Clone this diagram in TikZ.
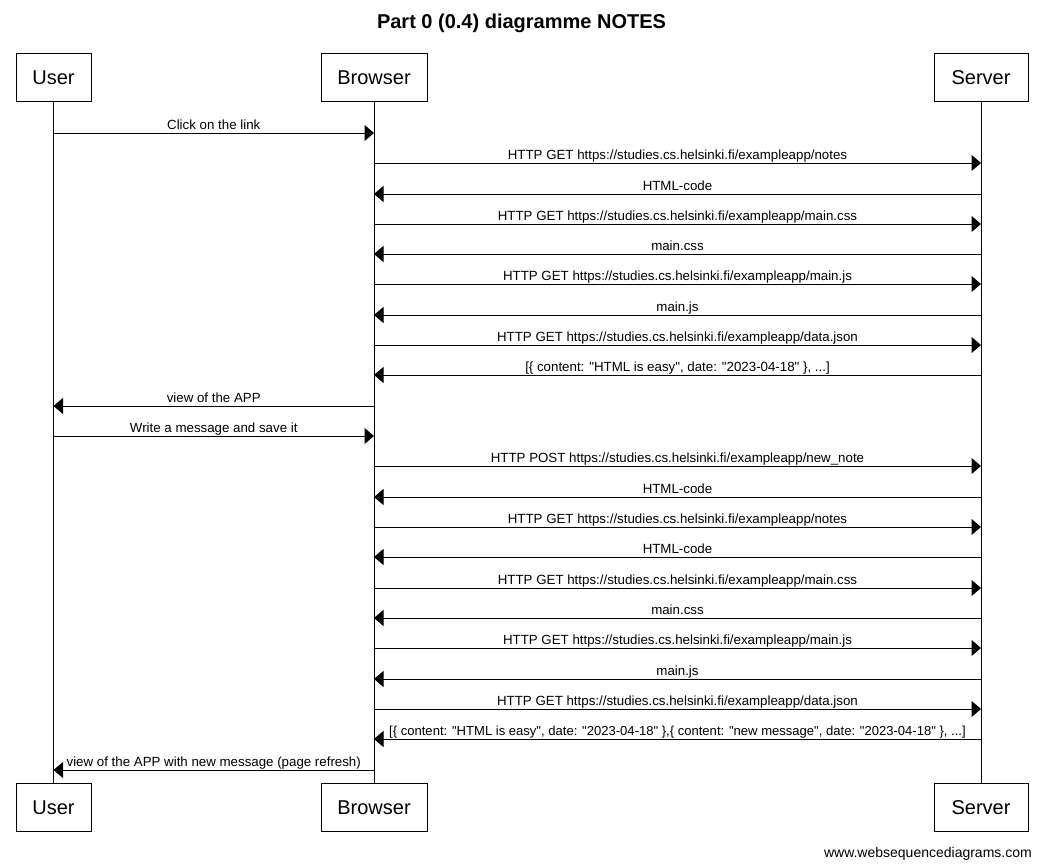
\documentclass[tikz,border=0pt]{standalone}
\usepackage{fontspec}
\setmainfont{Liberation Sans}[Ligatures=TeXOff]
\usetikzlibrary{arrows.meta}
\tikzstyle{actor}=[draw=black,line width=1pt,minimum height=48pt,inner sep=0pt,font=\fontsize{20}{24}\selectfont]
\tikzstyle{msg}=[line width=1pt,-{Triangle[length=9.5pt,width=16pt]}]
\tikzstyle{lbl}=[midway,anchor=base,yshift=4pt,inner sep=0pt,font=\fontsize{13.3}{15}\selectfont]

\begin{document}
\begin{tikzpicture}[x=1pt,y=-1pt]
\useasboundingbox (0,0) rectangle (1042,867);
\node[font=\bfseries\fontsize{20}{24}\selectfont,anchor=base] (title) at (521.5,29) {Part 0 (0.4) diagramme NOTES};
% actors, top and bottom
\node[actor,minimum width=75pt] (user) at (53.5,77.5) {User};
\node[actor,minimum width=106pt] (browser) at (374,77.5) {Browser};
\node[actor,minimum width=94pt] (server) at (981,77.5) {Server};
\node[actor,minimum width=75pt] (userb) at (53.5,807.5) {User};
\node[actor,minimum width=106pt] (browserb) at (374,807.5) {Browser};
\node[actor,minimum width=94pt] (serverb) at (981,807.5) {Server};
\draw[line width=1pt] (user) -- (userb); \draw[line width=1pt] (browser) -- (browserb); \draw[line width=1pt] (server) -- (serverb);
% message rows
\coordinate (r1) at (0,133); \coordinate (r2) at (0,163); \coordinate (r3) at (0,194); \coordinate (r4) at (0,224);
\coordinate (r5) at (0,254); \coordinate (r6) at (0,284); \coordinate (r7) at (0,315); \coordinate (r8) at (0,345);
\coordinate (r9) at (0,375); \coordinate (r10) at (0,406); \coordinate (r11) at (0,436); \coordinate (r12) at (0,466);
\coordinate (r13) at (0,497); \coordinate (r14) at (0,527); \coordinate (r15) at (0,557); \coordinate (r16) at (0,588);
\coordinate (r17) at (0,618); \coordinate (r18) at (0,648); \coordinate (r19) at (0,679); \coordinate (r20) at (0,709);
\coordinate (r21) at (0,739); \coordinate (r22) at (0,770);
\draw[msg] (user |- r1) -- (browser |- r1) node[lbl] {Click on the link};
\draw[msg] (browser |- r2) -- (server |- r2) node[lbl] {HTTP GET https://studies.cs.helsinki.fi/exampleapp/notes};
\draw[msg] (server |- r3) -- (browser |- r3) node[lbl] {HTML-code};
\draw[msg] (browser |- r4) -- (server |- r4) node[lbl] {HTTP GET https://studies.cs.helsinki.fi/exampleapp/main.css};
\draw[msg] (server |- r5) -- (browser |- r5) node[lbl] {main.css};
\draw[msg] (browser |- r6) -- (server |- r6) node[lbl] {HTTP GET https://studies.cs.helsinki.fi/exampleapp/main.js};
\draw[msg] (server |- r7) -- (browser |- r7) node[lbl] {main.js};
\draw[msg] (browser |- r8) -- (server |- r8) node[lbl] {HTTP GET https://studies.cs.helsinki.fi/exampleapp/data.json};
\draw[msg] (server |- r9) -- (browser |- r9) node[lbl] {[\{ content: "HTML is easy", date: "2023-04-18" \}, ...]};
\draw[msg] (browser |- r10) -- (user |- r10) node[lbl] {view of the APP};
\draw[msg] (user |- r11) -- (browser |- r11) node[lbl] {Write a message and save it};
\draw[msg] (browser |- r12) -- (server |- r12) node[lbl] {HTTP POST https://studies.cs.helsinki.fi/exampleapp/new\_note};
\draw[msg] (server |- r13) -- (browser |- r13) node[lbl] {HTML-code};
\draw[msg] (browser |- r14) -- (server |- r14) node[lbl] {HTTP GET https://studies.cs.helsinki.fi/exampleapp/notes};
\draw[msg] (server |- r15) -- (browser |- r15) node[lbl] {HTML-code};
\draw[msg] (browser |- r16) -- (server |- r16) node[lbl] {HTTP GET https://studies.cs.helsinki.fi/exampleapp/main.css};
\draw[msg] (server |- r17) -- (browser |- r17) node[lbl] {main.css};
\draw[msg] (browser |- r18) -- (server |- r18) node[lbl] {HTTP GET https://studies.cs.helsinki.fi/exampleapp/main.js};
\draw[msg] (server |- r19) -- (browser |- r19) node[lbl] {main.js};
\draw[msg] (browser |- r20) -- (server |- r20) node[lbl] {HTTP GET https://studies.cs.helsinki.fi/exampleapp/data.json};
\draw[msg] (server |- r21) -- (browser |- r21) node[lbl,font=\fontsize{13.05}{15}\selectfont] {[\{ content: "HTML is easy", date: "2023-04-18" \},\{ content: "new message", date: "2023-04-18" \}, ...]};
\draw[msg] (browser |- r22) -- (user |- r22) node[lbl] {view of the APP with new message (page refresh)};
\node[anchor=base east,inner sep=0pt,font=\fontsize{14}{16}\selectfont] (wsd) at (1032,857) {www.websequencediagrams.com};
\end{tikzpicture}
\end{document}
